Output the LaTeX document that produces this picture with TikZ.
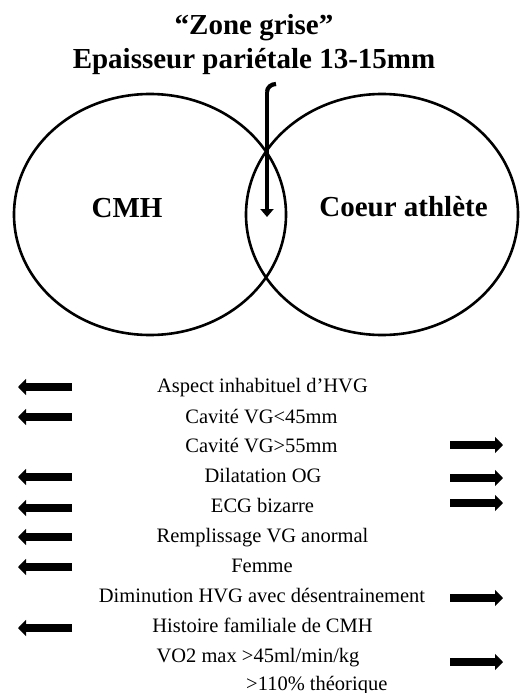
\documentclass[tikz,border=0pt]{standalone}
\usepackage{fontspec}
\setmainfont{Liberation Serif}
\usetikzlibrary{arrows.meta,shapes.geometric}
\begin{document}
\begin{tikzpicture}[x=1pt,y=-1pt,
  circ/.style={draw, ellipse, line width=2.6pt, minimum width=272pt, minimum height=241pt, inner sep=0pt},
  big/.style={font=\fontsize{29}{33}\selectfont\bfseries, anchor=base, inner sep=0pt},
  item/.style={font=\fontsize{20.5}{24}\selectfont, anchor=base, inner sep=0pt},
  larrow/.style={line width=8pt, -{Triangle[length=8pt,width=16pt]}},
  pointer/.style={line width=4.2pt, -{Triangle[length=8pt,width=13pt]}}]
\useasboundingbox (0,0) rectangle (521,693);
% title
\node[big] (t1) at (254,35) {“Zone grise”};
\node[big] (t2) at (254,68) {Epaisseur pariétale 13-15mm};
% circles
\node[circ] (cmh) at (150,214.5) {};
\node[circ] (ath) at (382,214.5) {};
\node[big] (lcmh) at (127,217) {CMH};
\node[big] (lath) at (403.5,216) {Coeur athlète};
% pointer
\coordinate (ptop) at (276,84);
\coordinate (pbend) at (267,92);
\coordinate (ptip) at (267,217);
\draw[line width=4.2pt] (ptop) to[out=180,in=90] (pbend);
\draw[pointer] (pbend) -- (ptip);
% list
\node[item] (i1) at (262.5,392) {Aspect inhabituel d’HVG};
\node[item] (i2) at (261.5,423) {Cavité VG<45mm};
\node[item] (i3) at (261.5,452) {Cavité VG>55mm};
\node[item] (i4) at (263,482) {Dilatation OG};
\node[item] (i5) at (262.5,512) {ECG bizarre};
\node[item] (i6) at (262.5,542) {Remplissage VG anormal};
\node[item] (i7) at (262,572) {Femme};
\node[item] (i8) at (262,602) {Diminution HVG avec désentrainement};
\node[item] (i9) at (262.5,632) {Histoire familiale de CMH};
\node[item] (i10) at (258,662) {VO2 max >45ml/min/kg};
\node[item, anchor=base west] (i11) at (246,690) {>110\% théorique};
% left arrows
\foreach \n/\y in {1/387,2/417,4/477,5/508,6/537,7/567,9/628} {
  \coordinate (ls\n) at (72,\y);
  \coordinate (le\n) at (18,\y);
  \draw[larrow] (ls\n) -- (le\n);
}
% right arrows
\foreach \n/\y in {3/445,4/478,5/503,8/598,10/662} {
  \coordinate (rs\n) at (450,\y);
  \coordinate (re\n) at (503,\y);
  \draw[larrow] (rs\n) -- (re\n);
}
\end{tikzpicture}
\end{document}
